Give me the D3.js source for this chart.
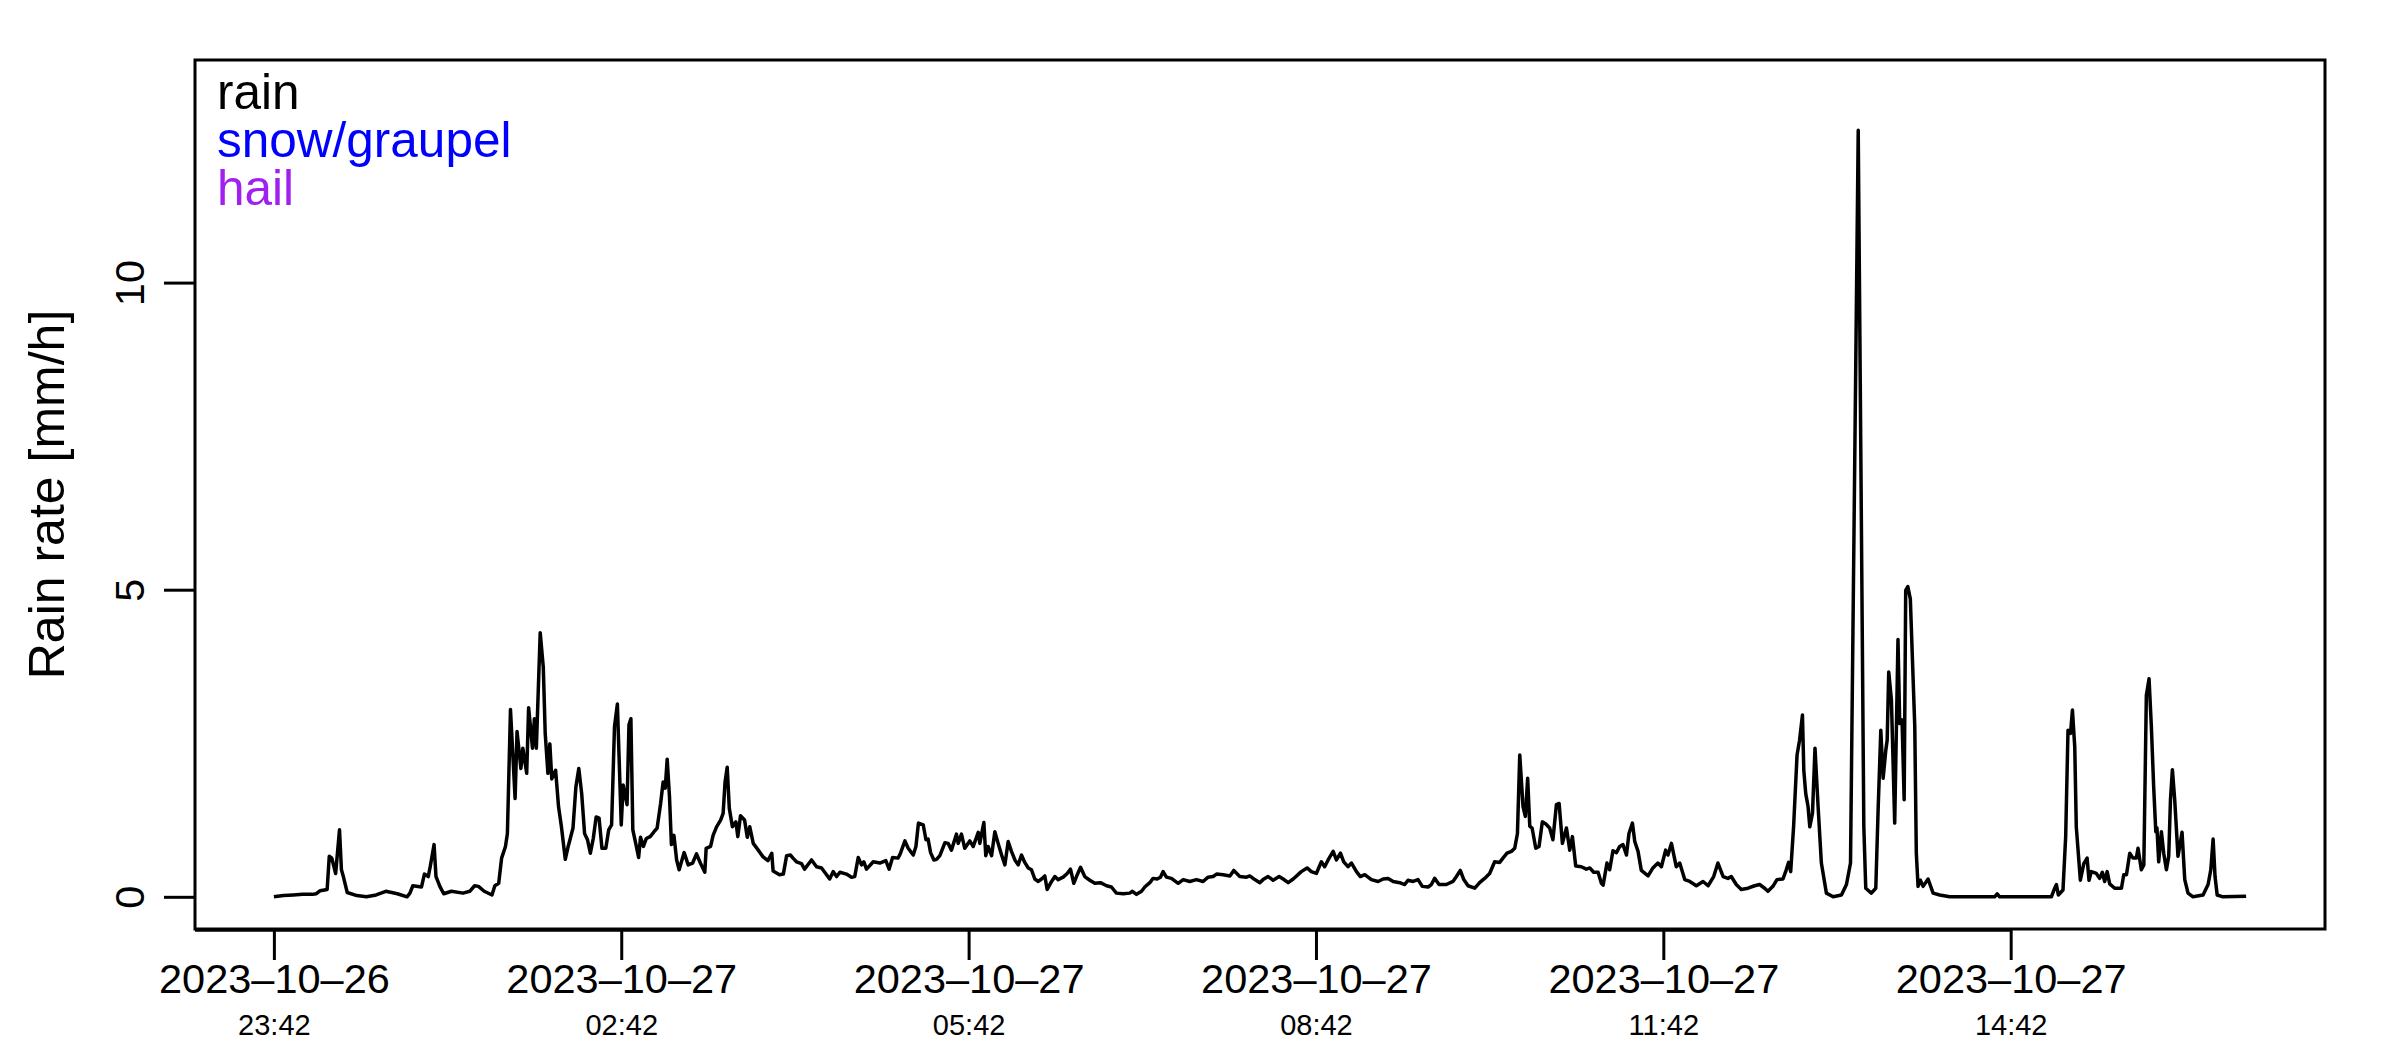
<!DOCTYPE html>
<html>
<head>
<meta charset="utf-8">
<script src="https://cdn.jsdelivr.net/npm/d3@7"></script>
<style>
  html, body { margin: 0; padding: 0; background: #fff; }
  svg { display: block; font-family: "Liberation Sans", Arial, Helvetica, sans-serif; }
</style>
</head>
<body>
<div id="rain-chart"></div>
<script>
// Minutes after 2023-10-26 23:42
const minutes = [
  0, 5, 10, 15, 20, 22, 24, 27.6, 28.7, 30,
  32, 34, 35, 36, 38, 43, 48, 53, 58, 64,
  69, 70.5, 72, 76.5, 78, 80, 81, 83, 84, 86,
  88, 92, 98, 101.5, 104, 106, 109, 113, 114.5, 116.5,
  118, 120, 121, 122.6, 125, 126, 128, 129, 131, 132,
  134, 135, 136, 138, 139.6, 140.6, 142, 143, 144, 146,
  147.5, 149, 151, 152.5, 155, 156.5, 158, 159.5, 161, 162.5,
  164, 165.5, 167, 168.5, 170, 172, 173.5, 175, 176.5, 178,
  180, 181, 183, 184, 185, 186, 187.5, 189, 190, 191.5,
  193, 195, 197, 198.6, 200.4, 201.7, 202.8, 203.8, 205, 206,
  207.3, 208.7, 210, 212.6, 214.7, 217, 219, 221, 223.3, 224,
  226.3, 227.6, 229.4, 231.5, 232.8, 233.8, 234.9, 236, 237.6, 239.4,
  240.4, 241.8, 243.9, 245.3, 246.6, 248.4, 251, 253.5, 256, 258,
  258.7, 262, 264, 265.7, 267.7, 269, 270.8, 273.4, 275, 278.6,
  281.2, 283.8, 286.4, 288, 289.8, 291.6, 293.3, 296.7, 299.3, 301,
  302.8, 304.5, 305.7, 307.1, 310.6, 314, 317.1, 318.8, 320.6, 323.5,
  324.7, 327, 328.7, 331.3, 332.7, 334, 336.5, 337.9, 339, 340.3,
  342, 343.4, 345.1, 347.7, 349.4, 351.1, 352, 353.7, 354.6, 356.3,
  358, 360.6, 362.4, 365, 365.8, 367.9, 368.9, 370.1, 371.9, 373.6,
  375.3, 377.1, 378.8, 380.5, 382.2, 384, 385.7, 387.4, 389.1, 390.9,
  392.6, 394.3, 396.1, 397.8, 399.5, 400.7, 403, 404.7, 406.4, 409,
  411.1, 412.8, 414.5, 416.3, 418, 420.2, 422.8, 425.4, 428.3, 431.5,
  434, 436.6, 440.1, 443.5, 444.9, 447, 449.6, 451.3, 453.9, 455.6,
  457.7, 459.4, 460.8, 462.5, 465.1, 468.6, 471.2, 474.6, 478.1, 481.5,
  484.1, 486.7, 488.5, 491.9, 495.4, 497.4, 500.5, 504, 505.7, 508.3,
  510.9, 512.6, 515.2, 517.8, 520.9, 523, 525.6, 528.2, 532.4, 535.4,
  537.6, 540.2, 542.8, 544.5, 546.3, 548.9, 550.6, 552.7, 554.4, 556.6,
  558.4, 561, 563, 565.3, 568.7, 572.2, 574.8, 577.4, 580, 583.4,
  586, 587.7, 590.3, 592.9, 595.1, 598.1, 599.8, 601.5, 603.8, 607.6,
  611, 612.8, 614.8, 616.6, 618.8, 622.3, 624.8, 627.4, 630, 632.6,
  635.2, 636.9, 639, 641.3, 643, 644.4, 645.6, 647.3, 648.5, 649.7,
  650.8, 652, 653.9, 655.6, 657.3, 659, 661.1, 662.8, 664.6, 666,
  667.7, 669.8, 671.5, 672.9, 674.6, 677.5, 680.1, 681.9, 683.9, 686.2,
  687.9, 688.8, 690.8, 692.2, 693.9, 695.7, 697.4, 699.1, 700.9, 702.2,
  704, 705.2, 706.9, 708.6, 712.1, 714.6, 717.2, 719, 721.2, 722.4,
  724.2, 726.7, 728.5, 731.1, 733.7, 737.1, 740.6, 743.2, 746.1, 748.3,
  751, 753.5, 755.2, 757.8, 760.4, 763.9, 767.3, 769.9, 772.5, 774.2,
  776.8, 778.9, 782, 783.7, 784.9, 786, 787.5, 789.3, 790.6, 792.1,
  792.8, 793.8, 795, 795.9, 797.3, 798.6, 800.2, 801.9, 804.5, 808,
  812.3, 814.9, 817, 821, 823.9, 824.9, 827.8, 830.1, 831.3, 832.7,
  833.9, 835.3, 836, 836.8, 838.2, 839.9, 841.6, 842.5, 843.7, 844.8,
  845.6, 846.7, 848, 850.3, 851.1, 852, 853.2, 854.6, 857.2, 859.8,
  863.2, 868.4, 891.7, 893, 894.3, 921.1, 922.8, 923.7, 924.7, 927.1,
  928.5, 929.7, 931, 932, 933.2, 934, 936.1, 937.9, 939.6, 940.6,
  941.8, 944.4, 946.1, 947.5, 948.7, 950, 951.3, 953.9, 957.4, 958.6,
  960, 961.7, 963.4, 965.1, 966, 967.7, 969, 970.3, 971.7, 972.9,
  974.1, 975.2, 975.8, 976.7, 978.1, 979.3, 980.7, 981.9, 982.8, 983.8,
  985, 986.7, 987.6, 988.8, 990.2, 991.9, 994.5, 999.7, 1002.3, 1003.7,
  1004.9, 1005.9, 1007, 1010, 1022
];

// Rain rate [mm/h], same order as minutes
const rainRate = [
  0.00, 0.02, 0.03, 0.04, 0.04, 0.05, 0.10, 0.12, 0.66, 0.63,
  0.38, 1.09, 0.44, 0.33, 0.07, 0.02, 0.00, 0.03, 0.09, 0.05,
  0.00, 0.06, 0.18, 0.16, 0.37, 0.33, 0.49, 0.85, 0.33, 0.17,
  0.05, 0.09, 0.06, 0.09, 0.18, 0.17, 0.09, 0.03, 0.18, 0.22,
  0.63, 0.82, 1.03, 3.05, 1.60, 2.69, 2.09, 2.42, 2.01, 3.08,
  2.42, 2.90, 2.42, 4.30, 3.74, 2.66, 2.01, 2.49, 1.92, 2.06,
  1.47, 1.14, 0.61, 0.82, 1.12, 1.79, 2.09, 1.68, 1.03, 0.93,
  0.71, 0.95, 1.30, 1.28, 0.79, 0.79, 1.09, 1.17, 2.77, 3.14,
  1.17, 1.82, 1.50, 2.80, 2.90, 1.09, 0.87, 0.64, 0.97, 0.82,
  0.95, 0.98, 1.06, 1.12, 1.52, 1.87, 1.77, 2.24, 1.63, 0.85,
  1.00, 0.60, 0.44, 0.72, 0.52, 0.55, 0.70, 0.55, 0.40, 0.79,
  0.82, 1.00, 1.14, 1.25, 1.36, 1.87, 2.11, 1.44, 1.14, 1.22,
  0.98, 1.32, 1.25, 0.97, 1.14, 0.87, 0.76, 0.65, 0.59, 0.71,
  0.42, 0.36, 0.37, 0.67, 0.68, 0.63, 0.57, 0.54, 0.45, 0.60,
  0.49, 0.47, 0.36, 0.29, 0.41, 0.33, 0.40, 0.37, 0.32, 0.33,
  0.64, 0.52, 0.57, 0.45, 0.57, 0.55, 0.59, 0.45, 0.64, 0.63,
  0.71, 0.91, 0.79, 0.68, 0.82, 1.20, 1.17, 0.93, 0.94, 0.72,
  0.60, 0.61, 0.67, 0.88, 0.87, 0.76, 0.85, 1.02, 0.87, 1.02,
  0.79, 0.91, 0.82, 1.05, 0.87, 1.21, 0.67, 0.82, 0.67, 1.06,
  0.87, 0.68, 0.52, 0.90, 0.74, 0.60, 0.52, 0.68, 0.56, 0.47,
  0.44, 0.29, 0.25, 0.29, 0.34, 0.12, 0.25, 0.33, 0.28, 0.32,
  0.38, 0.45, 0.22, 0.36, 0.48, 0.33, 0.27, 0.22, 0.23, 0.18,
  0.16, 0.06, 0.05, 0.06, 0.09, 0.04, 0.09, 0.16, 0.23, 0.30,
  0.29, 0.32, 0.41, 0.32, 0.30, 0.22, 0.28, 0.25, 0.28, 0.25,
  0.32, 0.33, 0.37, 0.36, 0.34, 0.43, 0.33, 0.32, 0.34, 0.28,
  0.23, 0.28, 0.33, 0.27, 0.33, 0.29, 0.23, 0.29, 0.41, 0.47,
  0.41, 0.38, 0.57, 0.49, 0.60, 0.74, 0.60, 0.71, 0.57, 0.49,
  0.55, 0.41, 0.33, 0.36, 0.28, 0.25, 0.29, 0.30, 0.25, 0.23,
  0.20, 0.27, 0.25, 0.28, 0.17, 0.16, 0.20, 0.30, 0.20, 0.20,
  0.25, 0.33, 0.43, 0.28, 0.18, 0.14, 0.23, 0.30, 0.38, 0.57,
  0.56, 0.63, 0.71, 0.74, 0.79, 1.03, 2.31, 1.47, 1.31, 1.93,
  1.15, 1.12, 0.79, 0.82, 1.22, 1.19, 1.12, 0.93, 1.50, 1.52,
  0.87, 1.12, 0.76, 0.98, 0.50, 0.49, 0.45, 0.47, 0.40, 0.40,
  0.22, 0.19, 0.55, 0.44, 0.75, 0.72, 0.82, 0.85, 0.68, 1.03,
  1.20, 0.90, 0.74, 0.43, 0.34, 0.47, 0.55, 0.49, 0.76, 0.68,
  0.87, 0.49, 0.55, 0.28, 0.25, 0.18, 0.25, 0.18, 0.33, 0.55,
  0.33, 0.30, 0.33, 0.20, 0.12, 0.14, 0.18, 0.20, 0.14, 0.09,
  0.17, 0.28, 0.29, 0.44, 0.56, 0.41, 1.14, 2.31, 2.55, 2.96,
  2.06, 1.68, 1.47, 1.14, 1.36, 2.42, 1.47, 0.55, 0.06, 0.00,
  0.03, 0.20, 0.55, 12.48, 1.14, 0.14, 0.06, 0.14, 1.41, 2.71,
  1.93, 2.39, 2.55, 3.66, 3.20, 1.20, 4.19, 2.82, 2.88, 1.58,
  4.99, 5.05, 4.85, 2.77, 0.71, 0.17, 0.27, 0.17, 0.29, 0.06,
  0.03, 0.00, 0.00, 0.05, 0.00, 0.00, 0.14, 0.20, 0.03, 0.11,
  0.98, 2.71, 2.66, 3.04, 2.44, 1.14, 0.27, 0.54, 0.63, 0.27,
  0.41, 0.38, 0.30, 0.40, 0.25, 0.41, 0.21, 0.14, 0.14, 0.36,
  0.36, 0.71, 0.63, 0.63, 0.79, 0.44, 0.52, 3.28, 3.55, 2.77,
  1.79, 1.06, 1.12, 0.57, 1.06, 0.71, 0.44, 0.66, 1.58, 2.07,
  1.58, 0.66, 0.82, 1.05, 0.28, 0.06, 0.00, 0.03, 0.20, 0.44,
  0.94, 0.33, 0.03, 0.00, 0.01
];

// Axis ticks
const tickMinutes = [0, 180, 360, 540, 720, 900];
const tickDates = ["2023–10–26", "2023–10–27", "2023–10–27", "2023–10–27", "2023–10–27", "2023–10–27"];
const tickTimes = ["23:42", "02:42", "05:42", "08:42", "11:42", "14:42"];
const yTicks = [0, 5, 10];
const yLimits = [0, 13.1];

// Legend
const legendLabels = ["rain", "snow/graupel", "hail"];
const legendColors = ["#000000", "#0000ff", "#a020f0"];

document.addEventListener("DOMContentLoaded", function () {
  const width = 2400;
  const height = 1050;
  const margin = { top: 60, right: 75, bottom: 121, left: 195 };

  const svg = d3.select("#rain-chart")
    .append("svg")
    .attr("width", width)
    .attr("height", height);

  const series = minutes.map((m, i) => ({ m: m, v: rainRate[i] }));

  // R style 4% padding on both scales
  const xExt = d3.extent(minutes);
  const xPad = (xExt[1] - xExt[0]) * 0.04;
  const x = d3.scaleLinear()
    .domain([xExt[0] - xPad, xExt[1] + xPad])
    .range([margin.left, width - margin.right]);

  const yPad = (yLimits[1] - yLimits[0]) * 0.04;
  const y = d3.scaleLinear()
    .domain([yLimits[0] - yPad, yLimits[1] + yPad])
    .range([height - margin.bottom, margin.top]);

  // Rain line
  const line = d3.line()
    .x(d => x(d.m))
    .y(d => y(d.v));

  svg.append("path")
    .datum(series)
    .attr("fill", "none")
    .attr("stroke", "#000")
    .attr("stroke-width", 3.5)
    .attr("stroke-linejoin", "round")
    .attr("d", line);

  // Plot box
  svg.append("rect")
    .attr("x", margin.left)
    .attr("y", margin.top)
    .attr("width", width - margin.left - margin.right)
    .attr("height", height - margin.top - margin.bottom)
    .attr("fill", "none")
    .attr("stroke", "#000")
    .attr("stroke-width", 3);

  // X axis
  const xAxis = svg.append("g")
    .attr("transform", `translate(0,${height - margin.bottom})`)
    .call(d3.axisBottom(x)
      .tickValues(tickMinutes)
      .tickSize(31)
      .tickSizeOuter(0)
      .tickFormat((d, i) => tickDates[i]))
    .attr("font-family", null)
    .attr("font-size", null);

  xAxis.select(".domain").remove();
  xAxis.selectAll(".tick line")
    .attr("stroke", "#000")
    .attr("stroke-width", 3);
  xAxis.selectAll(".tick text")
    .attr("y", 64)
    .attr("dy", null)
    .attr("fill", "#000")
    .attr("font-size", 41.5);
  xAxis.selectAll(".tick")
    .append("text")
    .attr("y", 106)
    .attr("fill", "#000")
    .attr("text-anchor", "middle")
    .attr("font-size", 29)
    .text((d, i) => tickTimes[i]);

  // axis line runs from the box edge to the last tick
  svg.append("line")
    .attr("x1", margin.left)
    .attr("x2", x(d3.max(tickMinutes)))
    .attr("y1", height - margin.bottom + 1)
    .attr("y2", height - margin.bottom + 1)
    .attr("stroke", "#000")
    .attr("stroke-width", 3.5);

  // Y axis
  const yAxis = svg.append("g")
    .attr("transform", `translate(${margin.left},0)`)
    .call(d3.axisLeft(y).tickValues(yTicks).tickSize(31))
    .attr("font-family", null)
    .attr("font-size", null);

  yAxis.select(".domain").remove();
  yAxis.selectAll(".tick line")
    .attr("stroke", "#000")
    .attr("stroke-width", 3);
  yAxis.selectAll(".tick text")
    .attr("x", null)
    .attr("dy", null)
    .attr("fill", "#000")
    .attr("text-anchor", "middle")
    .attr("font-size", 41.5)
    .attr("transform", "translate(-51,0) rotate(-90)");

  // Y title
  svg.append("text")
    .attr("transform", `translate(64,${(margin.top + height - margin.bottom) / 2}) rotate(-90)`)
    .attr("text-anchor", "middle")
    .attr("font-size", 50)
    .attr("fill", "#000")
    .text("Rain rate [mm/h]");

  // Legend (text only)
  svg.selectAll(".legend")
    .data(legendLabels)
    .enter()
    .append("text")
    .attr("class", "legend")
    .attr("x", margin.left + 22)
    .attr("y", (d, i) => 109 + i * 48)
    .attr("font-size", 49.5)
    .attr("fill", (d, i) => legendColors[i])
    .text(d => d);
});
</script>
</body>
</html>
